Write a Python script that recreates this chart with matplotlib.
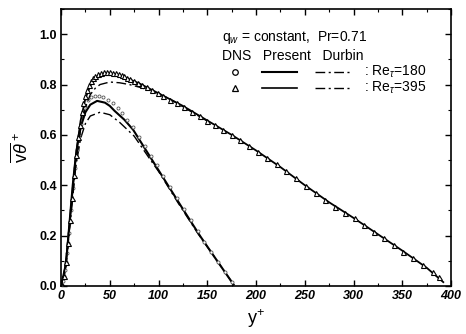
import matplotlib
matplotlib.use("Agg")
import matplotlib.pyplot as plt
from matplotlib.ticker import MultipleLocator

plt.rcParams['font.family'] = ['Liberation Sans', 'DejaVu Sans']
plt.rcParams['mathtext.fontset'] = 'custom'
plt.rcParams['mathtext.rm'] = 'Liberation Sans'
plt.rcParams['mathtext.it'] = 'Liberation Sans:italic'
plt.rcParams['mathtext.bf'] = 'Liberation Sans:bold'

# Re_tau = 180 : DNS (circles)
dns180_y = [1, 2, 3, 4, 5, 6, 7, 8, 9, 10, 12, 14, 16, 18, 20, 22, 25, 28, 31, 35, 39, 43, 48, 53,
            58, 63, 68, 74, 80, 86, 92, 98, 105, 112, 119, 126, 133, 140, 147, 154, 161, 168, 175]
dns180_v = [0.005, 0.02, 0.04, 0.065, 0.095, 0.13, 0.17, 0.21, 0.255, 0.30, 0.39, 0.47, 0.54, 0.60,
            0.645, 0.68, 0.715, 0.74, 0.75, 0.755, 0.755, 0.75, 0.74, 0.725, 0.705, 0.685, 0.66, 0.63,
            0.59, 0.555, 0.515, 0.48, 0.435, 0.393, 0.35, 0.305, 0.26, 0.218, 0.175, 0.135, 0.095,
            0.055, 0.015]
# Re_tau = 180 : Present
pre180_y = [0, 2, 4, 6, 8, 10, 12, 14, 16, 18, 20, 25, 30, 37, 45, 50, 55, 65, 74, 91, 108, 125, 143, 160, 177]
pre180_v = [0, 0.02, 0.06, 0.13, 0.22, 0.31, 0.40, 0.475, 0.54, 0.59, 0.63, 0.69, 0.72, 0.735, 0.728,
            0.715, 0.695, 0.66, 0.62, 0.515, 0.41, 0.305, 0.196, 0.10, 0.005]
# Re_tau = 180 : Durbin
dur180_y = [0, 5, 10, 15, 20, 25, 30, 40, 50, 60, 75, 90, 100, 120, 140, 160, 177]
dur180_v = [0, 0.08, 0.28, 0.47, 0.585, 0.645, 0.675, 0.69, 0.68, 0.65, 0.595, 0.51, 0.455, 0.33,
            0.21, 0.10, 0.005]

# Re_tau = 395 : DNS (triangles)
dns395_y = [1, 3, 5, 7, 9, 11, 13, 15, 17, 19, 21, 23, 25, 27, 29, 31, 33, 35, 38, 41, 44, 47, 50,
            53, 56, 59, 62, 65, 68, 71, 75, 79, 83, 88, 93, 99, 105, 112, 119, 126, 134, 142, 150,
            158, 166, 175, 184, 193, 202, 211, 221, 231, 241, 251, 261, 271, 281, 291, 301, 311,
            321, 331, 341, 351, 361, 371, 381, 388]
dns395_v = [0.005, 0.04, 0.095, 0.17, 0.26, 0.35, 0.44, 0.52, 0.59, 0.64, 0.69, 0.725, 0.755, 0.78,
            0.80, 0.815, 0.825, 0.835, 0.842, 0.847, 0.85, 0.85, 0.849, 0.847, 0.844, 0.84, 0.836,
            0.832, 0.827, 0.822, 0.815, 0.808, 0.80, 0.79, 0.78, 0.768, 0.755, 0.74, 0.725, 0.71,
            0.69, 0.675, 0.657, 0.638, 0.62, 0.60, 0.578, 0.556, 0.533, 0.51, 0.485, 0.455, 0.428,
            0.398, 0.37, 0.342, 0.314, 0.29, 0.27, 0.243, 0.215, 0.19, 0.163, 0.135, 0.11, 0.083,
            0.055, 0.035]
# Re_tau = 395 : Present
pre395_y = [0, 5, 10, 15, 20, 25, 30, 35, 40, 47, 55, 65, 80, 100, 125, 150, 175, 200, 225, 250,
            275, 300, 325, 350, 375, 392]
pre395_v = [0, 0.09, 0.30, 0.51, 0.655, 0.745, 0.795, 0.825, 0.838, 0.842, 0.838, 0.828, 0.805,
            0.765, 0.715, 0.657, 0.60, 0.538, 0.472, 0.40, 0.332, 0.27, 0.205, 0.14, 0.072, 0.015]
# Re_tau = 395 : Durbin
dur395_y = [0, 5, 10, 15, 20, 25, 30, 35, 40, 50, 60, 70, 80, 90, 100, 115, 130, 150]
dur395_v = [0, 0.08, 0.28, 0.48, 0.62, 0.71, 0.76, 0.785, 0.80, 0.81, 0.807, 0.80, 0.79, 0.778,
            0.765, 0.735, 0.70, 0.655]

x_ticks = [0, 50, 100, 150, 200, 250, 300, 350, 400]
y_ticks = [0.0, 0.2, 0.4, 0.6, 0.8, 1.0]

fig = plt.figure(figsize=(4.66, 3.34), dpi=100)
ax = fig.add_axes([0.131, 0.144, 0.837, 0.829])

dd = (0, (7, 2.5, 1.5, 2.5))
ax.plot(pre180_y, pre180_v, color='black', lw=1.5)
ax.plot(dur180_y, dur180_v, color='black', lw=1.0, linestyle=dd)
ax.plot(dns180_y, dns180_v, linestyle='none', marker='o', ms=2.2, mfc='white', mec='#555555', mew=0.6)
ax.plot(pre395_y, pre395_v, color='black', lw=1.3)
ax.plot(dur395_y, dur395_v, color='black', lw=1.0, linestyle=dd)
ax.plot(dns395_y, dns395_v, linestyle='none', marker='^', ms=3.6, mfc='white', mec='black', mew=0.8)

ax.set_xlim(0, 400)
ax.set_ylim(0, 1.1)
ax.set_xticks(x_ticks)
ax.set_yticks(y_ticks)
ax.set_xticklabels([str(v) for v in x_ticks], fontweight='bold', fontstyle='italic', fontsize=9)
ax.set_yticklabels(['%.1f' % v for v in y_ticks], fontweight='bold', fontsize=9)
ax.xaxis.set_minor_locator(MultipleLocator(25))
ax.yaxis.set_minor_locator(MultipleLocator(0.1))
ax.tick_params(which='both', direction='in', top=True, right=True)
ax.tick_params(which='major', length=4.5, width=1.0, pad=3)
ax.tick_params(which='minor', length=2.5, width=0.8)
for s in ax.spines.values():
    s.set_linewidth(1.2)

ax.set_xlabel(r'y$^{+}$', fontsize=13, labelpad=4)
ax.set_ylabel(r'$\overline{\mathrm{v}\theta}^{\,+}$', fontsize=13, labelpad=6)

# legend-like annotation
ax.text(165, 0.985, r'q$_w$ = constant,  Pr=0.71', fontsize=10, va='center')
ax.text(165, 0.915, 'DNS   Present   Durbin', fontsize=10, va='center')
ax.plot([178], [0.85], linestyle='none', marker='o', ms=4, mfc='white', mec='black', mew=0.9)
ax.plot([178], [0.787], linestyle='none', marker='^', ms=5, mfc='white', mec='black', mew=0.9)
ax.plot([206, 242], [0.85, 0.85], color='black', lw=1.5)
ax.plot([206, 242], [0.787, 0.787], color='black', lw=1.2)
ax.plot([260, 296], [0.85, 0.85], color='black', lw=1.0, linestyle=dd)
ax.plot([260, 296], [0.787, 0.787], color='black', lw=1.0, linestyle=dd)
ax.text(311, 0.85, r': Re$_\tau$=180', fontsize=10, va='center')
ax.text(311, 0.787, r': Re$_\tau$=395', fontsize=10, va='center')

fig.savefig('out.png', dpi=100)
